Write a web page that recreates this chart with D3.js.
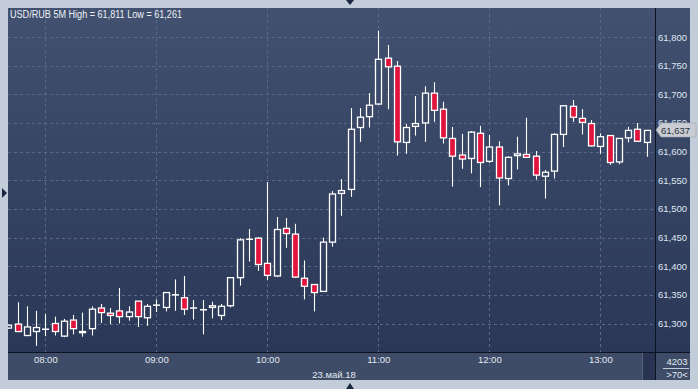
<!DOCTYPE html>
<html>
<head>
<meta charset="utf-8">
<script src="https://cdn.jsdelivr.net/npm/d3@7"></script>
<style>
  body { margin: 0; background: #c3cdd9; }
  svg { display: block; font-family: "Liberation Sans", Arial, sans-serif; }
</style>
</head>
<body>
<div id="chart"></div>
<script>
// 5 minute candles, first one starts 07:40
const startTime = "2018-05-23T07:40:00";
const openVals  = [61292,61299,61279,61286,61290,61300,61278,61306,61284,61291,61327,61318,61322,61312,61339,61310,61331,61328,61349,61345,
                   61327,61324,61328,61314,61331,61380,61446,61449,61405,61383,61466,61456,61379,61368,61356,61442,61527,61534,61642,61661,
                   61683,61763,61749,61616,61644,61650,61702,61674,61623,61594,61588,61632,61583,61608,61553,61593,61595,61592,61557,61566,
                   61630,61679,61658,61649,61609,61628,61582,61624,61639,61616];
const highVals  = [61298,61337,61330,61322,61317,61312,61308,61315,61319,61330,61334,61327,61362,61330,61339,61334,61342,61355,61377,61383,
                   61341,61341,61338,61334,61381,61449,61465,61451,61547,61486,61484,61474,61410,61368,61450,61531,61552,61676,61676,61702,
                   61811,61786,61758,61648,61697,61714,61721,61687,61643,61631,61636,61645,61629,61618,61592,61626,61659,61601,61568,61632,
                   61681,61690,61674,61655,61632,61628,61623,61643,61650,61637];
const lowVals   = [61291,61285,61279,61261,61278,61279,61276,61281,61277,61279,61301,61299,61300,61305,61294,61296,61320,61321,61322,61315,
                   61307,61281,61309,61306,61328,61366,61408,61392,61376,61381,61432,61380,61342,61321,61355,61434,61488,61521,61617,61642,
                   61682,61674,61593,61596,61628,61617,61652,61614,61539,61570,61562,61538,61580,61506,61541,61569,61589,61551,61518,61553,
                   61608,61652,61630,61609,61596,61577,61578,61616,61618,61591];
const closeVals = [61297,61286,61294,61293,61290,61286,61304,61291,61286,61325,61319,61314,61312,61320,61312,61330,61332,61354,61350,61325,
                   61327,61324,61331,61330,61380,61446,61447,61403,61384,61464,61457,61381,61365,61354,61442,61526,61532,61639,61660,61681,
                   61761,61748,61617,61642,61649,61702,61672,61624,61592,61587,61634,61581,61608,61554,61590,61596,61590,61559,61564,61630,
                   61680,61660,61651,61610,61626,61581,61623,61637,61618,61637];
const priceTicks = [61300,61350,61400,61450,61500,61550,61600,61650,61700,61750,61800];
const titleText = "USD/RUB 5M High = 61,811 Low = 61,261";
const dateLabel = "23.май.18";
const lastPrice = 61637;
const cornerTop = "4203";
const cornerBottom = ">70<";

const W = 698, H = 389;
const plot = { left: 8, top: 8, right: 655, bottom: 352 };
const t0 = new Date(startTime);
const candles = openVals.map((o, i) => ({
    time: d3.timeMinute.offset(t0, i * 5),
    open: o, high: highVals[i], low: lowVals[i], close: closeVals[i]
}));

const x = d3.scaleTime()
    .domain([new Date("2018-05-23T08:00:00"), new Date("2018-05-23T13:00:00")])
    .range([45.3, 600.3]);
const y = d3.scaleLinear().domain([61300, 61800]).range([323.5, 37]);

const svg = d3.select("#chart").append("svg").attr("width", W).attr("height", H);

const defs = svg.append("defs");
const grad = defs.append("linearGradient").attr("id", "bg")
    .attr("gradientUnits", "userSpaceOnUse")
    .attr("x1", 0).attr("y1", plot.top).attr("x2", 0).attr("y2", plot.bottom);
grad.append("stop").attr("offset", "0%").attr("stop-color", "#425170");
grad.append("stop").attr("offset", "100%").attr("stop-color", "#2a3757");
defs.append("clipPath").attr("id", "clip").append("rect")
    .attr("x", plot.left).attr("y", plot.top)
    .attr("width", plot.right - plot.left).attr("height", plot.bottom - plot.top);

// frame + panels
svg.append("rect").attr("width", W).attr("height", H).attr("fill", "#c3cdd9");
svg.append("rect").attr("x", plot.left).attr("y", plot.top)
    .attr("width", 690 - plot.left).attr("height", plot.bottom - plot.top).attr("fill", "url(#bg)");
svg.append("rect").attr("x", plot.left).attr("y", 353).attr("width", 690 - plot.left).attr("height", 27).attr("fill", "#3e4c67");
svg.append("rect").attr("x", 643).attr("y", 353).attr("width", 12).attr("height", 27).attr("fill", "#283451");
svg.append("line").attr("x1", 642.5).attr("x2", 642.5).attr("y1", 353).attr("y2", 380).attr("stroke", "#55637d");

// grid
const grid = svg.append("g").attr("stroke", "#5a6883").attr("stroke-dasharray", "3,3").attr("stroke-width", 1);
grid.selectAll("line.h").data(priceTicks).join("line").attr("class", "h")
    .attr("x1", plot.left).attr("x2", plot.right)
    .attr("y1", d => Math.round(y(d)) + 0.5).attr("y2", d => Math.round(y(d)) + 0.5);
grid.selectAll("line.v").data(x.ticks(d3.timeHour.every(1))).join("line").attr("class", "v")
    .attr("y1", plot.top).attr("y2", plot.bottom)
    .attr("x1", d => Math.round(x(d)) + 0.5).attr("x2", d => Math.round(x(d)) + 0.5);

// title
svg.append("text").attr("x", 10).attr("y", 18).attr("fill", "#eef1f6")
    .attr("font-size", 10).attr("textLength", 172).attr("lengthAdjust", "spacingAndGlyphs")
    .text(titleText);

// candles
const bw = 5;
const cg = svg.append("g").attr("clip-path", "url(#clip)");
const cs = cg.selectAll("g.candle").data(candles).join("g").attr("class", "candle");
const cx = d => Math.round(x(d.time)) + 0.5;
cs.append("line")
    .attr("x1", cx).attr("x2", cx)
    .attr("y1", d => y(d.high)).attr("y2", d => y(d.low))
    .attr("stroke", "#ffffff").attr("stroke-width", 1.1);
cs.filter(d => Math.abs(y(d.open) - y(d.close)) >= 1).append("rect")
    .attr("x", d => cx(d) - bw / 2 - 0.5)
    .attr("y", d => Math.min(y(d.open), y(d.close)))
    .attr("width", bw + 1)
    .attr("height", d => Math.abs(y(d.open) - y(d.close)))
    .attr("fill", d => d.close < d.open ? "#e0143d" : "url(#bg)")
    .attr("stroke", "#ffffff").attr("stroke-width", 1.3);
cs.filter(d => Math.abs(y(d.open) - y(d.close)) < 1).append("line")
    .attr("x1", d => cx(d) - bw / 2 - 1).attr("x2", d => cx(d) + bw / 2 + 1)
    .attr("y1", d => y(d.close)).attr("y2", d => y(d.close))
    .attr("stroke", "#ffffff").attr("stroke-width", 1.5);

// divider lines
svg.append("line").attr("x1", 655.5).attr("x2", 655.5).attr("y1", plot.top).attr("y2", 380).attr("stroke", "#0c1222");
svg.append("line").attr("x1", plot.left).attr("x2", 690).attr("y1", 352.5).attr("y2", 352.5).attr("stroke", "#0c1222");

// right price axis
const yAxis = svg.append("g").attr("transform", "translate(656,0)")
    .call(d3.axisRight(y).tickValues(priceTicks).tickSize(0).tickPadding(2).tickFormat(d3.format(",")));
yAxis.select(".domain").remove();
yAxis.selectAll("text").attr("fill", "#dfe6f2").attr("font-size", 9.5).attr("font-family", "Liberation Sans, Arial");

// bottom time axis
const xAxis = svg.append("g").attr("transform", "translate(0,356)")
    .call(d3.axisBottom(x).ticks(d3.timeHour.every(1)).tickSize(0).tickPadding(0).tickFormat(d3.timeFormat("%H:%M")));
xAxis.select(".domain").remove();
xAxis.selectAll("text").attr("fill", "#e3e9f3").attr("font-size", 9.5).attr("font-family", "Liberation Sans, Arial");
svg.append("text").attr("x", 334).attr("y", 378).attr("text-anchor", "middle")
    .attr("fill", "#e3e9f3").attr("font-size", 9.5).text(dateLabel);

// last price tag
const py = Math.round(y(lastPrice));
svg.append("path")
    .attr("d", `M656,${py} L661,${py - 7} L696,${py - 7} L696,${py + 7} L661,${py + 7} Z`)
    .attr("fill", "#c9cdd3").attr("stroke", "#9ea6b2").attr("stroke-width", 0.6);
svg.append("text").attr("x", 661).attr("y", py + 3.5).attr("fill", "#2a2f3a").attr("font-size", 9.5)
    .text(d3.format(",")(lastPrice));

// corner counters
svg.append("text").attr("x", 677).attr("y", 365).attr("text-anchor", "middle")
    .attr("fill", "#e3e9f3").attr("font-size", 9.5).text(cornerTop);
svg.append("line").attr("x1", 663).attr("x2", 689).attr("y1", 368.5).attr("y2", 368.5).attr("stroke", "#c3cbd8");
svg.append("text").attr("x", 677).attr("y", 378).attr("text-anchor", "middle")
    .attr("fill", "#e3e9f3").attr("font-size", 9.5).text(cornerBottom);

// small navigation arrows on the frame
svg.append("path").attr("d", "M346,0 L354,0 L350,5 Z").attr("fill", "#1c2741");
svg.append("path").attr("d", "M346,389 L354,389 L350,383 Z").attr("fill", "#1c2741");
svg.append("path").attr("d", "M2,188 L7,193 L2,198 Z").attr("fill", "#1c2741");
</script>
</body>
</html>
